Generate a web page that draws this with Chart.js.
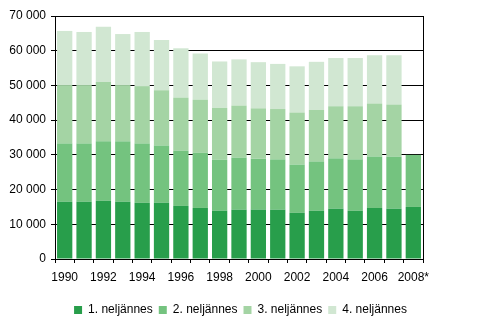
<!DOCTYPE html>
<html>
<head>
<meta charset="utf-8">
<script src="https://cdn.jsdelivr.net/npm/chart.js@4/dist/chart.umd.min.js"></script>
<style>
  body { margin: 0; background: #fff; }
  #wrap { width: 499px; height: 327px; }
</style>
</head>
<body>
<div id="wrap"><canvas id="chart"></canvas></div>
<script>
// vuodet, viimeinen ennakkotieto
const years = ["1990", "1991", "1992", "1993", "1994", "1995", "1996", "1997", "1998", "1999",
  "2000", "2001", "2002", "2003", "2004", "2005", "2006", "2007", "2008*"];

const q1 = [16500, 16500, 16800, 16500, 16200, 16200, 15300, 14700, 13900, 14200,
  14200, 14200, 13300, 13900, 14500, 13900, 14700, 14500, 15000];
const q2 = [16800, 16800, 17100, 17400, 17100, 16500, 15900, 15900, 14700, 15000,
  14700, 14500, 13900, 14200, 14500, 14800, 14800, 15000, 15000];
const q3 = [16800, 16800, 17100, 16200, 16500, 15900, 15300, 15300, 15000, 15000,
  14500, 14500, 15000, 14800, 15000, 15300, 15300, 15000, null];
const q4 = [15600, 15300, 15900, 14700, 15600, 14500, 14200, 13300, 13300, 13300,
  13300, 13000, 13300, 13900, 13900, 13900, 13900, 14200, null];

const seriesNames = ["1. neljännes", "2. neljännes", "3. neljännes", "4. neljännes"];
const colors = ["#289e4b", "#74c37f", "#a4d4a4", "#d1e7d2"];

const fmt = (v) => String(v).replace(/\B(?=(\d{3})+(?!\d))/g, " ");

// oikea reuna kehykseen
const frame = {
  id: "frame",
  afterDatasetsDraw(chart) {
    const { ctx, chartArea: a } = chart;
    ctx.save();
    ctx.strokeStyle = "#000";
    ctx.lineWidth = 1;
    ctx.beginPath();
    ctx.moveTo(Math.round(a.right) + 0.5, a.top);
    ctx.lineTo(Math.round(a.right) + 0.5, a.bottom);
    ctx.stroke();
    ctx.restore();
  },
};

Chart.defaults.font.family = "Arial, 'Liberation Sans', sans-serif";
Chart.defaults.font.size = 12;
Chart.defaults.color = "#000";

new Chart(document.getElementById("chart"), {
  type: "bar",
  data: {
    labels: years,
    datasets: [q1, q2, q3, q4].map((d, i) => ({
      label: seriesNames[i],
      data: d,
      backgroundColor: colors[i],
      borderWidth: 0,
      barPercentage: 0.79,
      categoryPercentage: 1,
      yAxisID: "y",
    })),
  },
  options: {
    responsive: true,
    maintainAspectRatio: false,
    animation: false,
    layout: { padding: { top: 16, right: 18, left: 0, bottom: 1 } },
    plugins: {
      legend: {
        position: "bottom",
        labels: { boxWidth: 8, boxHeight: 8, padding: 6, color: "#000" },
      },
      tooltip: { enabled: false },
    },
    scales: {
      x: {
        stacked: true,
        afterFit: (s) => { s.height = 39; },
        grid: { offset: true, drawOnChartArea: false, tickLength: 4, color: "#000" },
        border: { color: "#000" },
        ticks: {
          maxRotation: 0,
          autoSkip: false,
          padding: 7,
          callback: (v, i) => (i % 2 === 0 ? years[i] : ""),
        },
      },
      y: {
        stacked: true,
        min: 0,
        max: 70000,
        afterFit: (s) => { s.width = 55; },
        grid: { color: "#000", tickLength: 4 },
        border: { color: "#000" },
        ticks: { stepSize: 10000, padding: 5, callback: (v) => fmt(v) },
      },
      // tyhjä tila oikealla
      yr: {
        position: "right",
        afterFit: (s) => { s.width = 58; },
        grid: { display: false },
        border: { display: false },
        ticks: { display: false },
      },
    },
  },
  plugins: [frame],
});
</script>
</body>
</html>
